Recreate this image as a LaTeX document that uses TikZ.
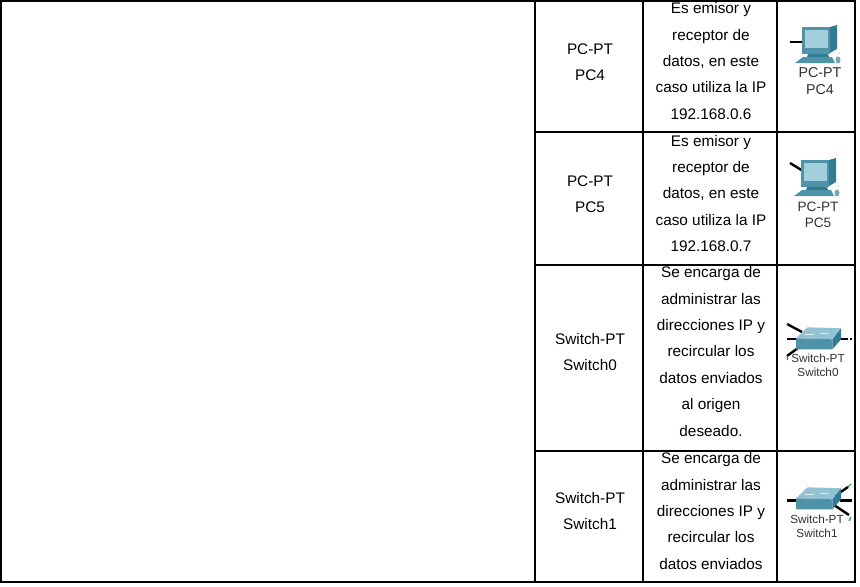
\documentclass[tikz,border=0pt]{standalone}
\usepackage{fontspec}
\setmainfont{Liberation Sans}
\definecolor{tealdark}{HTML}{2F7C94}
\definecolor{tealmid}{HTML}{4F93A8}
\definecolor{teallight}{HTML}{A3CFDC}
\definecolor{labelgray}{HTML}{2E3033}
\begin{document}
\begin{tikzpicture}[
	x=0.75pt, y=-0.75pt,
	cellline/.style={black, line width=1.6pt},
	celltext/.style={font=\fontsize{11.5}{19.8}\selectfont, align=center, inner sep=0pt, text=black},
	iconlabel/.style 2 args={font=\fontsize{#1}{#2}\selectfont, align=center, inner sep=0pt, text=labelgray},
	cable/.style={black, line width=1.8pt},
	linktip/.style={green!60!black, line width=0.7pt},
	pcicon/.pic={
		\fill[tealdark] (27,0) -- (34,-2) -- (34,22) -- (27,26) -- cycle;
		\fill[tealmid] (-1,0) -- (27,0) -- (27,27) -- (-1,27) -- cycle;
		\fill[teallight] (2,3) -- (25,3) -- (25,21) -- (2,21) -- cycle;
		\fill[tealdark] (5,27) -- (25,27) -- (26,30) -- (4,30) -- cycle;
		\fill[tealmid] (0,30) -- (29,30) -- (32,36) -- (-8,36) -- cycle;
		\fill[tealmid!80] (35,33) ellipse (2.5 and 3.5);
		\fill[gray!40] (36,26) circle (0.8);
	},
	switchicon/.pic={
		\fill[teallight!80!tealmid] (0,0) -- (11.5,-11) -- (45,-10) -- (36.5,1) -- cycle;
		\fill[tealmid] (0,0) -- (36.5,1) -- (36.5,11) -- (0,11) -- cycle;
		\fill[tealdark] (36.5,1) -- (45,-10) -- (45,1) -- (36.5,11) -- cycle;
		\draw[white!80!tealmid, line width=0.4pt] (9,-4) -- (18,-4) (24,-5) -- (33,-5);
	},
	]
	
	\useasboundingbox (0,0) rectangle (860,586);
	
	%First column
	\node[celltext] (pc4name) at (590,62) {PC-PT\\PC4};
	\node[celltext] (pc5name) at (590,194) {PC-PT\\PC5};
	\node[celltext] (sw0name) at (590,352) {Switch-PT\\Switch0};
	\node[celltext] (sw1name) at (590,511) {Switch-PT\\Switch1};
	
	%Second column
	\node[celltext] (pc4text) at (711,61) {Es emisor y\\receptor de\\datos, en este\\caso utiliza la IP\\192.168.0.6};
	\node[celltext] (pc5text) at (711,193.5) {Es emisor y\\receptor de\\datos, en este\\caso utiliza la IP\\192.168.0.7};
	\node[celltext] (sw0text) at (711,351.5) {Se encarga de\\administrar las\\direcciones IP y\\recircular los\\datos enviados\\al origen\\deseado.};
	\node[celltext] (sw1text) at (711,511) {Se encarga de\\administrar las\\direcciones IP y\\recircular los\\datos enviados};
	
	%Icons
	\draw[cable] (790,42) -- (803,42);
	\pic at (803,27) {pcicon};
	\node[iconlabel={10.7}{12.8}] (pc4icon) at (820,81.5) {PC-PT\\PC4};
	
	\draw[cable] (790,163) -- (803,171);
	\pic at (802,160) {pcicon};
	\node[iconlabel={10.2}{12}] (pc5icon) at (818,215) {PC-PT\\PC5};
	
	\draw[cable] (787,324) -- (802,332);
	\draw[cable] (787,339) -- (797,339);
	\draw[cable] (787,356) -- (798,348);
	\draw[linktip] (787,324) -- (787,326);
	\draw[linktip] (787,356) -- (787,360);
	\draw[cable] (840,339) -- (848,339);
	\draw[cable] (850,339) -- (852,339);
	\pic at (796,338.3) {switchicon};
	\node[iconlabel={8.8}{10.6}] (sw0icon) at (818,365) {Switch-PT\\Switch0};
	
	\draw[cable] (787,500.5) -- (797,500.5);
	\draw[cable] (835,496) -- (848,487);
	\draw[cable] (840,500.5) -- (852,500.5);
	\draw[cable] (834,505) -- (849,515);
	\draw[linktip] (848,487) -- (851,484);
	\draw[linktip] (851,517) -- (849,521);
	\pic at (796,498.3) {switchicon};
	\node[iconlabel={8.8}{10.6}] (sw1icon) at (817,526.5) {Switch-PT\\Switch1};
	
	%Lines
	\draw[cellline] (1,1) rectangle (855,582);
	\draw[cellline] (535,1) -- (535,582);
	\draw[cellline] (643,1) -- (643,582);
	\draw[cellline] (777,1) -- (777,582);
	\foreach \rowy in {132,265,451}
		\draw[cellline] (535,\rowy) -- (855,\rowy);
	
	\end{tikzpicture}
\end{document}
